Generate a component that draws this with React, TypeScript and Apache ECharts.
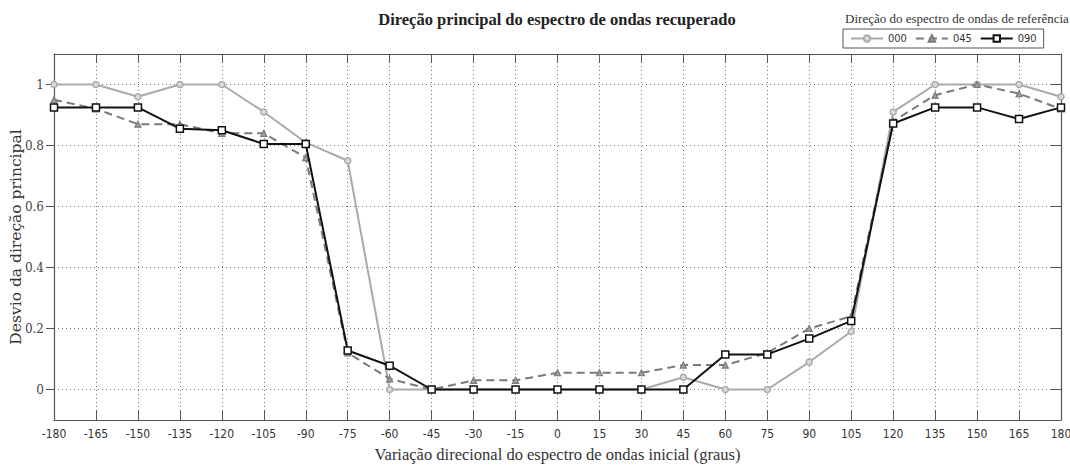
import React, { useEffect, useRef } from "react";
import * as echarts from "echarts";

const xValues = [-180, -165, -150, -135, -120, -105, -90, -75, -60, -45, -30, -15, 0, 15, 30, 45, 60, 75, 90, 105, 120, 135, 150, 165, 180];
const s000 = [1.0, 1.0, 0.96, 1.0, 1.0, 0.91, 0.81, 0.75, 0.0, 0.0, 0.0, 0.0, 0.0, 0.0, 0.0, 0.04, 0.0, 0.0, 0.09, 0.19, 0.91, 1.0, 1.0, 1.0, 0.96];
const s045 = [0.95, 0.92, 0.87, 0.87, 0.84, 0.84, 0.76, 0.12, 0.035, 0.0, 0.03, 0.03, 0.055, 0.055, 0.055, 0.08, 0.08, 0.12, 0.2, 0.24, 0.88, 0.965, 1.0, 0.97, 0.92];
const s090 = [0.925, 0.925, 0.925, 0.855, 0.85, 0.805, 0.805, 0.128, 0.078, 0.0, 0.0, 0.0, 0.0, 0.0, 0.0, 0.0, 0.115, 0.115, 0.167, 0.225, 0.872, 0.925, 0.925, 0.887, 0.925];
const seriesNames = ["000", "045", "090"];
const yTicks = [0, 0.2, 0.4, 0.6, 0.8, 1];

const titleText = "Direção principal do espectro de ondas recuperado";
const legendTitle = "Direção do espectro de ondas de referência";
const xName = "Variação direcional do espectro de ondas inicial (graus)";
const yName = "Desvio da direção principal";

const toPairs = (vals: number[]) => xValues.map((x, i) => [x, vals[i]]);

export default function App() {
  const ref = useRef<HTMLDivElement>(null);
  useEffect(() => {
    document.body.style.margin = "0";
    const chart = echarts.init(ref.current!, null, { renderer: "svg" });
    const frame = "#555";
    const serif = "'Liberation Serif', serif";
    const dserif = "'DejaVu Serif', serif";
    const narrow = "'Liberation Sans Narrow', 'DejaVu Sans Condensed', sans-serif";
    chart.setOption({
      animation: false,
      backgroundColor: "#fff",
      title: [
        {
          text: titleText,
          left: 552,
          top: 6,
          textAlign: "center",
          textStyle: { fontFamily: serif, fontSize: 16.5, fontWeight: "bold", color: "#222" },
        },
        {
          text: legendTitle,
          left: 952,
          top: 7,
          textAlign: "center",
          textStyle: { fontFamily: serif, fontSize: 13, fontWeight: "normal", color: "#333" },
        },
      ],
      legend: {
        data: seriesNames,
        left: 843,
        top: 29,
        width: 220,
        orient: "horizontal",
        borderColor: frame,
        borderWidth: 1,
        padding: [4, 7, 4, 7],
        itemWidth: 32,
        itemHeight: 8,
        itemGap: 8,
        textStyle: { fontFamily: narrow, fontSize: 11, color: "#333" },
      },
      grid: { left: 54, right: 9, top: 54, bottom: 46, containLabel: false, outerBoundsMode: "none" },
      xAxis: [
        {
          type: "value",
          min: -180,
          max: 180,
          interval: 15,
          position: "bottom",
          name: xName,
          nameLocation: "middle",
          nameGap: 26,
          nameMoveOverlap: false,
          nameTextStyle: { fontFamily: serif, fontSize: 16.5, color: "#333" },
          axisLine: { show: true, onZero: false, lineStyle: { color: frame, width: 1.2 } },
          axisTick: { show: true, inside: true, length: 10, lineStyle: { color: frame } },
          axisLabel: { fontFamily: narrow, fontSize: 12, color: "#333", margin: 8 },
          splitLine: { show: true, lineStyle: { type: [1, 3], color: "#777", width: 1 } },
        },
        {
          type: "value",
          min: -180,
          max: 180,
          interval: 15,
          position: "top",
          axisLine: { show: true, onZero: false, lineStyle: { color: frame, width: 1.2 } },
          axisTick: { show: true, inside: true, length: 9, lineStyle: { color: frame } },
          axisLabel: { show: false },
          splitLine: { show: false },
        },
      ],
      yAxis: [
        {
          type: "value",
          min: -0.1,
          max: 1.1,
          splitNumber: 6,
          position: "left",
          name: yName,
          nameLocation: "middle",
          nameGap: 30,
          nameMoveOverlap: false,
          nameTextStyle: { fontFamily: dserif, fontSize: 15.5, color: "#333" },
          axisLine: { show: true, onZero: false, lineStyle: { color: frame, width: 1.2 } },
          axisTick: { show: true, inside: false, length: 8, customValues: yTicks, lineStyle: { color: frame } },
          axisLabel: { customValues: yTicks, fontFamily: dserif, fontSize: 12, color: "#444", margin: 10 },
          splitLine: { show: true, lineStyle: { type: [1, 3], color: "#777", width: 1 } },
        },
        {
          type: "value",
          min: -0.1,
          max: 1.1,
          splitNumber: 6,
          position: "right",
          axisLine: { show: true, onZero: false, lineStyle: { color: frame, width: 1.2 } },
          axisTick: { show: true, inside: true, length: 10, customValues: yTicks, lineStyle: { color: frame } },
          axisLabel: { show: false },
          splitLine: { show: false },
        },
      ],
      series: [
        {
          name: seriesNames[0],
          type: "line",
          data: toPairs(s000),
          symbol: "circle",
          symbolSize: 6,
          lineStyle: { color: "#aaaaaa", width: 2 },
          itemStyle: { color: "#d8d8d8", borderColor: "#aaaaaa", borderWidth: 1.5 },
          z: 2,
        },
        {
          name: seriesNames[1],
          type: "line",
          data: toPairs(s045),
          symbol: "triangle",
          symbolSize: 6,
          lineStyle: { color: "#7a7a7a", width: 2, type: [8, 5] },
          itemStyle: { color: "#a0a0a0", borderColor: "#7a7a7a", borderWidth: 1.2 },
          z: 3,
        },
        {
          name: seriesNames[2],
          type: "line",
          data: toPairs(s090),
          symbol: "rect",
          symbolSize: 7,
          lineStyle: { color: "#111", width: 2 },
          itemStyle: { color: "#fff", borderColor: "#111", borderWidth: 1.5 },
          z: 4,
        },
      ],
    });
    return () => chart.dispose();
  }, []);
  return <div ref={ref} style={{ width: 1070, height: 466 }} />;
}
